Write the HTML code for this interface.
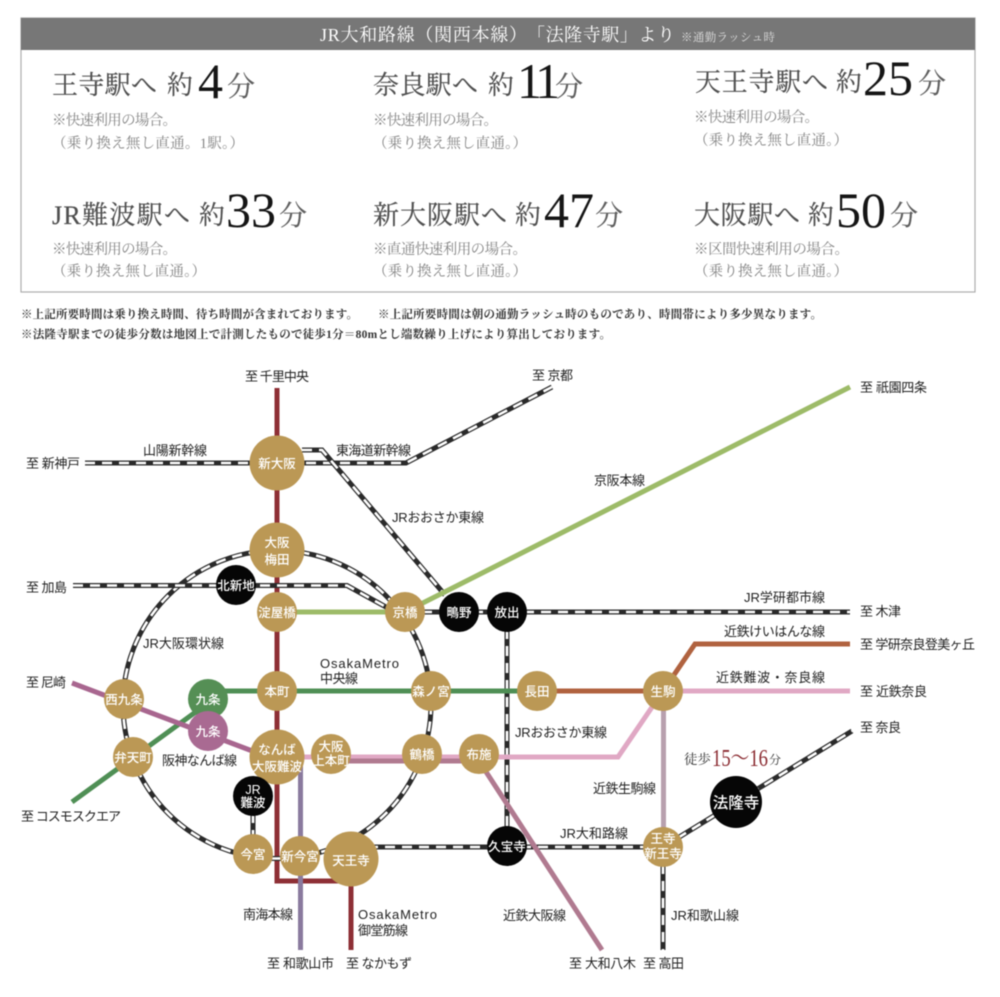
<!DOCTYPE html>
<html lang="ja">
<head>
<meta charset="utf-8">
<title>JR大和路線「法隆寺駅」より</title>
<style>
html,body{margin:0;padding:0;background:#fff;width:1000px;height:997px;overflow:hidden}
svg{display:block;filter:blur(0.4px)}
.s{font-family:"Liberation Serif","Noto Serif CJK JP","Noto Serif CJK SC",serif}
.h{font-size:26px;fill:#4f4f4f;stroke:#4f4f4f;stroke-width:.2px}
.n{font-size:50px;fill:#151515}
.m{font-size:28px;fill:#5e5e5e;stroke:#5e5e5e;stroke-width:.2px}
.d{font-size:14.5px;fill:#858585}
.f{font-size:11.5px;fill:#333;font-weight:bold}
.l{font-family:"Liberation Sans","Noto Sans CJK JP",sans-serif;font-size:13px;fill:#222}
.t{font-family:"Liberation Sans","Noto Sans CJK JP",sans-serif;font-size:12.5px;fill:#fff;text-anchor:middle;font-weight:500}
.g{fill:#bb9855}
.b{fill:#060606}
.jb{fill:none;stroke:#2a2a2a;stroke-width:5}
.jw{fill:none;stroke:#fff;stroke-width:2.6;stroke-dasharray:10 7}
</style>
</head>
<body>
<svg width="1000" height="997" viewBox="0 0 1000 997" xmlns="http://www.w3.org/2000/svg">
<rect width="1000" height="997" fill="#fff"/>
<rect x="21" y="18" width="954" height="274" fill="#fff" stroke="#adadad" stroke-width="1.2"/>
<rect x="21" y="18" width="954" height="32" fill="#777"/>
<text class="s" x="320" y="41" font-size="18" fill="#fff" textLength="207">JR大和路線（関西本線）</text>
<text class="s" x="527" y="41" font-size="18" fill="#fff" textLength="148">「法隆寺駅」より</text>
<text class="s" x="681" y="41" font-size="11.5" fill="#ddd" textLength="94">※通勤ラッシュ時</text>

<g class="s">
<text class="h" x="52" y="94" textLength="105">王寺駅へ</text><text class="h" x="167" y="94">約</text><text class="n" x="198" y="98">4</text><text class="m" x="227" y="96">分</text>
<text class="h" x="373" y="94" textLength="105">奈良駅へ</text><text class="h" x="488" y="94">約</text><text class="n" x="517" y="98" letter-spacing="-5">11</text><text class="m" x="555" y="96">分</text>
<text class="h" x="695" y="91" textLength="133">天王寺駅へ</text><text class="h" x="836" y="91">約</text><text class="n" x="863" y="95">25</text><text class="m" x="918" y="93">分</text>
<text class="h" x="52" y="224" textLength="138">JR難波駅へ</text><text class="h" x="199" y="224">約</text><text class="n" x="226" y="227">33</text><text class="m" x="279" y="225">分</text>
<text class="h" x="373" y="224" textLength="134">新大阪駅へ</text><text class="h" x="515" y="224">約</text><text class="n" x="544" y="227">47</text><text class="m" x="595" y="225">分</text>
<text class="h" x="694" y="224" textLength="106">大阪駅へ</text><text class="h" x="808" y="224">約</text><text class="n" x="836" y="227">50</text><text class="m" x="890" y="225">分</text>

<text class="d" x="52" y="125" textLength="125">※快速利用の場合。</text><text class="d" x="52" y="148" textLength="192">（乗り換え無し直通。1駅。）</text>
<text class="d" x="373" y="125" textLength="125">※快速利用の場合。</text><text class="d" x="373" y="148" textLength="154">（乗り換え無し直通。）</text>
<text class="d" x="694" y="122" textLength="125">※快速利用の場合。</text><text class="d" x="694" y="145" textLength="154">（乗り換え無し直通。）</text>
<text class="d" x="52" y="254" textLength="125">※快速利用の場合。</text><text class="d" x="52" y="276" textLength="154">（乗り換え無し直通。）</text>
<text class="d" x="373" y="254" textLength="154">※直通快速利用の場合。</text><text class="d" x="373" y="276" textLength="154">（乗り換え無し直通。）</text>
<text class="d" x="694" y="254" textLength="155">※区間快速利用の場合。</text><text class="d" x="694" y="276" textLength="154">（乗り換え無し直通。）</text>

<text class="f" x="21" y="318" textLength="337">※上記所要時間は乗り換え時間、待ち時間が含まれております。</text>
<text class="f" x="378" y="318" textLength="444">※上記所要時間は朝の通勤ラッシュ時のものであり、時間帯により多少異なります。</text>
<text class="f" x="21" y="338" textLength="590">※法隆寺駅までの徒歩分数は地図上で計測したもので徒歩1分＝80mとし端数繰り上げにより算出しております。</text>
</g>

<!-- colored lines (under) -->
<path d="M277 388V881H351M351 859V950" stroke="#8e2f35" stroke-width="5" fill="none"/>
<path d="M300.500 757V950" stroke="#8a7a9e" stroke-width="5" fill="none"/>

<!-- JR lines -->
<g>
<circle class="jb" cx="277" cy="704.500" r="154"/><circle class="jw" cx="277" cy="704.500" r="154"/>
<path class="jb" d="M85 463H406L552 387"/><path class="jw" d="M85 463H406L552 387"/>
<path class="jb" d="M302 450H322L445 595"/><path class="jw" d="M302 450H322L445 595"/>
<path class="jb" d="M73 585.500H347L395 612"/><path class="jw" d="M73 585.500H347L395 612"/>
<path class="jb" d="M405 612H850"/><path class="jw" d="M405 612H850"/>
<path class="jb" d="M507 612V846"/><path class="jw" d="M507 612V846"/>
<path class="jb" d="M351 847H663"/><path class="jw" d="M351 847H663"/>
<path class="jb" d="M663 847V950"/><path class="jw" d="M663 847V950"/>
<path class="jb" d="M663 847L852 731"/><path class="jw" d="M663 847L852 731"/>
<path class="jb" d="M253 796V854"/><path class="jw" d="M253 796V854"/>
</g>

<!-- other private lines -->
<g fill="none" stroke-width="5">
<path d="M277 612H405L850 387" stroke="#9dbb68"/>
<path d="M208 691H537" stroke="#4f8f55"/>
<path d="M72 802L208 703" stroke="#4f8f55"/>
<path d="M72 683L255 752" stroke="#a8668f"/>
<path d="M537 691H663L695 644H850" stroke="#b0623f"/>
<path d="M663 691H850" stroke="#e0a8c4"/>
<path d="M300 757H618L663 691" stroke="#e0a8c4"/>
<path d="M331 761H479L602 950" stroke="#b07a90"/>
<path d="M663.500 691V847" stroke="#b8a0ae"/>
</g>

<!-- stations -->
<circle class="g" cx="277" cy="463" r="27.500"/><text class="t" x="277" y="468">新大阪</text>
<circle class="g" cx="277" cy="550" r="27.500"/><text class="t" x="277" y="547">大阪</text><text class="t" x="277" y="564">梅田</text>
<circle class="g" cx="277" cy="612" r="20"/><text class="t" x="277" y="617">淀屋橋</text>
<circle class="g" cx="405" cy="612" r="20"/><text class="t" x="405" y="617">京橋</text>
<circle class="b" cx="459" cy="612" r="20"/><text class="t" x="459" y="617">鴫野</text>
<circle class="b" cx="507" cy="612" r="20"/><text class="t" x="507" y="617">放出</text>
<circle class="b" cx="236" cy="585" r="20"/><text class="t" x="236" y="590">北新地</text>
<circle class="g" cx="277" cy="691" r="20"/><text class="t" x="277" y="696">本町</text>
<circle class="g" cx="431" cy="691" r="20"/><text class="t" x="431" y="696">森ノ宮</text>
<circle class="g" cx="537" cy="691" r="20"/><text class="t" x="537" y="696">長田</text>
<circle class="g" cx="663" cy="691" r="20"/><text class="t" x="663" y="696">生駒</text>
<circle class="g" cx="124" cy="699" r="20"/><text class="t" x="124" y="704">西九条</text>
<circle fill="#558f55" cx="208" cy="699" r="20"/><text class="t" x="208" y="704">九条</text>
<circle fill="#a96a92" cx="208" cy="731" r="20"/><text class="t" x="208" y="736">九条</text>
<circle class="g" cx="133" cy="757" r="20"/><text class="t" x="133" y="762">弁天町</text>
<circle class="g" cx="277" cy="757" r="27.500"/><text class="t" x="277" y="754">なんば</text><text class="t" x="277" y="771" font-size="12">大阪難波</text>
<circle class="g" cx="331" cy="754" r="20"/><text class="t" x="331" y="751">大阪</text><text class="t" x="331" y="765">上本町</text>
<circle class="g" cx="422" cy="754" r="20"/><text class="t" x="422" y="759">鶴橋</text>
<circle class="g" cx="479" cy="754" r="20"/><text class="t" x="479" y="759">布施</text>
<circle class="b" cx="253" cy="796" r="20"/><text class="t" x="253" y="794">JR</text><text class="t" x="253" y="807">難波</text>
<circle class="g" cx="253" cy="854" r="20"/><text class="t" x="253" y="859">今宮</text>
<circle class="g" cx="300" cy="856" r="20"/><text class="t" x="300" y="861">新今宮</text>
<circle class="g" cx="351" cy="859" r="27.500"/><text class="t" x="351" y="865">天王寺</text>
<circle class="b" cx="507" cy="846" r="20"/><text class="t" x="507" y="851">久宝寺</text>
<circle class="g" cx="663" cy="847" r="20"/><text class="t" x="663" y="843">王寺</text><text class="t" x="663" y="858">新王寺</text>
<circle class="b" cx="736" cy="802" r="26"/><text class="t" x="736" y="808" style="font-size:15.500px">法隆寺</text>

<!-- labels -->
<g>
<text class="l" x="245" y="381" textLength="64">至 千里中央</text>
<text class="l" x="532" y="380" textLength="41">至 京都</text>
<text class="l" x="860" y="392" textLength="67">至 祇園四条</text>
<text class="l" x="143" y="455" textLength="64">山陽新幹線</text>
<text class="l" x="336" y="455" textLength="75">東海道新幹線</text>
<text class="l" x="26" y="468" textLength="54">至 新神戸</text>
<text class="l" x="392" y="522" textLength="92">JRおおさか東線</text>
<text class="l" x="594" y="485" textLength="51">京阪本線</text>
<text class="l" x="26" y="592" textLength="41">至 加島</text>
<text class="l" x="143" y="648" textLength="81">JR大阪環状線</text>
<text class="l" x="744" y="602" textLength="81">JR学研都市線</text>
<text class="l" x="860" y="616" textLength="41">至 木津</text>
<text class="l" x="724" y="636" textLength="101">近鉄けいはんな線</text>
<text class="l" x="860" y="649" textLength="115">至 学研奈良登美ヶ丘</text>
<text class="l" x="716" y="682" textLength="109">近鉄難波・奈良線</text>
<text class="l" x="860" y="696" textLength="67">至 近鉄奈良</text>
<text class="l" x="860" y="732" textLength="41">至 奈良</text>
<text class="l" x="320" y="668" textLength="79">OsakaMetro</text>
<text class="l" x="320" y="683" textLength="38">中央線</text>
<text class="l" x="26" y="687" textLength="40">至 尼崎</text>
<text class="l" x="162" y="765" textLength="75">阪神なんば線</text>
<text class="l" x="515" y="737" textLength="92">JRおおさか東線</text>
<text class="l" x="593" y="793" textLength="63">近鉄生駒線</text>
<text class="s" x="684" y="764" font-size="13.500" fill="#333" textLength="27">徒歩</text>
<text class="s" x="712" y="766" font-size="24" fill="#8a2a30" textLength="56" lengthAdjust="spacingAndGlyphs">15〜16</text>
<text class="s" x="769" y="764" font-size="12" fill="#333">分</text>
<text class="l" x="560" y="838" textLength="68">JR大和路線</text>
<text class="l" x="21" y="821" textLength="100">至 コスモスクエア</text>
<text class="l" x="243" y="919" textLength="50">南海本線</text>
<text class="l" x="358" y="919" textLength="79">OsakaMetro</text>
<text class="l" x="358" y="935" textLength="50">御堂筋線</text>
<text class="l" x="503" y="920" textLength="63">近鉄大阪線</text>
<text class="l" x="671" y="920" textLength="68">JR和歌山線</text>
<text class="l" x="267" y="968" textLength="67">至 和歌山市</text>
<text class="l" x="346" y="968" textLength="66">至 なかもず</text>
<text class="l" x="569" y="968" textLength="67">至 大和八木</text>
<text class="l" x="643" y="968" textLength="41">至 高田</text>
</g>
</svg>
</body>
</html>
